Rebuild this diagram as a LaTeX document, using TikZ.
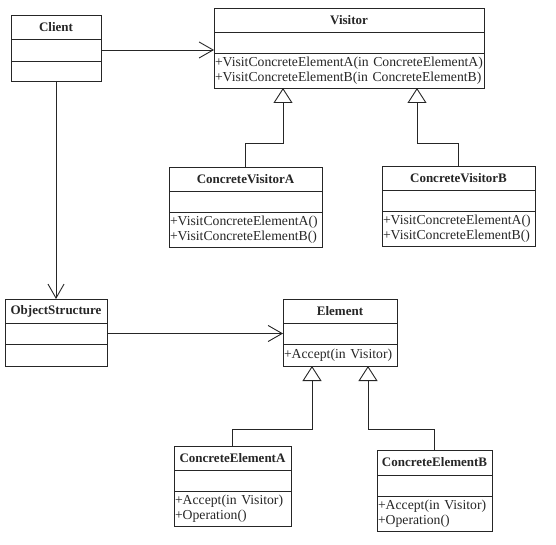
\documentclass[tikz,border=0pt]{standalone}
\usepackage{fontspec}
\setmainfont{Liberation Serif}
\usetikzlibrary{positioning,arrows.meta,calc}

\begin{document}
\begin{tikzpicture}[
  x=1pt, y=1pt, line width=0.9pt, color=black!85,
  hdr/.style={draw, outer sep=0pt, inner sep=0pt, anchor=north west, minimum height=24pt, font=\fontsize{13}{14}\selectfont\bfseries},
  sect/.style={draw, outer sep=0pt, inner sep=0pt, minimum height=21pt},
  ops/.style={draw, outer sep=0pt, inner xsep=1pt, inner ysep=0pt, minimum height=35pt, align=left, font=\fontsize{13.7}{15}\selectfont},
  assoc/.style={-{Straight Barb[length=14pt,width=16pt]}},
  inherit/.style={-{Triangle[open,length=15pt,width=19pt]}},
]
  \useasboundingbox (0,0) rectangle (556,-545);

  % Client and Visitor
  \node (client) [hdr, minimum width=90pt] at (11,-15) {Client};
  \node (client-attr) [sect, minimum width=90pt, minimum height=22pt, below=0pt of client] {};
  \node (client-ops) [sect, minimum width=90pt, minimum height=20pt, below=0pt of client-attr] {};

  \node (visitor) [hdr, minimum width=270pt] at (214,-8) {Visitor};
  \node (visitor-attr) [sect, minimum width=270pt, below=0pt of visitor] {};
  \node (visitor-ops) [ops, text width=268pt, below=0pt of visitor-attr] {+VisitConcreteElementA(in ConcreteElementA)\\+VisitConcreteElementB(in ConcreteElementB)};

  \node (cva) [hdr, minimum width=153pt] at (169,-167) {ConcreteVisitorA};
  \node (cva-attr) [sect, minimum width=153pt, below=0pt of cva] {};
  \node (cva-ops) [ops, text width=151pt, below=0pt of cva-attr] {+VisitConcreteElementA()\\+VisitConcreteElementB()};

  \node (cvb) [hdr, minimum width=153pt] at (382,-166) {ConcreteVisitorB};
  \node (cvb-attr) [sect, minimum width=153pt, below=0pt of cvb] {};
  \node (cvb-ops) [ops, text width=151pt, below=0pt of cvb-attr] {+VisitConcreteElementA()\\+VisitConcreteElementB()};

  % ObjectStructure and Element
  \node (objstruct) [hdr, minimum width=102pt] at (5,-299) {ObjectStructure};
  \node (objstruct-attr) [sect, minimum width=102pt, below=0pt of objstruct] {};
  \node (objstruct-ops) [sect, minimum width=102pt, minimum height=22pt, below=0pt of objstruct-attr] {};

  \node (element) [hdr, minimum width=114pt] at (283,-299) {Element};
  \node (element-attr) [sect, minimum width=114pt, below=0pt of element] {};
  \node (element-ops) [ops, text width=112pt, minimum height=22pt, below=0pt of element-attr] {+Accept(in Visitor)};

  \node (cea) [hdr, minimum width=117pt] at (174,-446) {ConcreteElementA};
  \node (cea-attr) [sect, minimum width=117pt, below=0pt of cea] {};
  \node (cea-ops) [ops, text width=115pt, below=0pt of cea-attr] {+Accept(in Visitor)\\+Operation()};

  \node (ceb) [hdr, minimum width=115pt, minimum height=25pt] at (377,-450) {ConcreteElementB};
  \node (ceb-attr) [sect, minimum width=115pt, below=0pt of ceb] {};
  \node (ceb-ops) [ops, text width=113pt, below=0pt of ceb-attr] {+Accept(in Visitor)\\+Operation()};

  % associations
  \draw[assoc] (client-attr.east) -- (client-attr.east -| visitor.west);
  \draw[assoc] (client-ops.south) -- (objstruct.north);
  \draw[assoc] (objstruct-attr.east) -- (objstruct-attr.east -| element.west);

  % generalizations
  \draw[inherit] (cva.north) -- ++(0,24) -| ([xshift=-66pt]visitor-ops.south);
  \draw[inherit] (cvb.north) -- ++(0,23) -| ([xshift=68pt]visitor-ops.south);
  \draw[inherit] (cea.north) -- ++(0,17) -| ([xshift=-28pt]element-ops.south);
  \draw[inherit] (ceb.north) -- ++(0,21) -| ([xshift=28pt]element-ops.south);
\end{tikzpicture}
\end{document}
